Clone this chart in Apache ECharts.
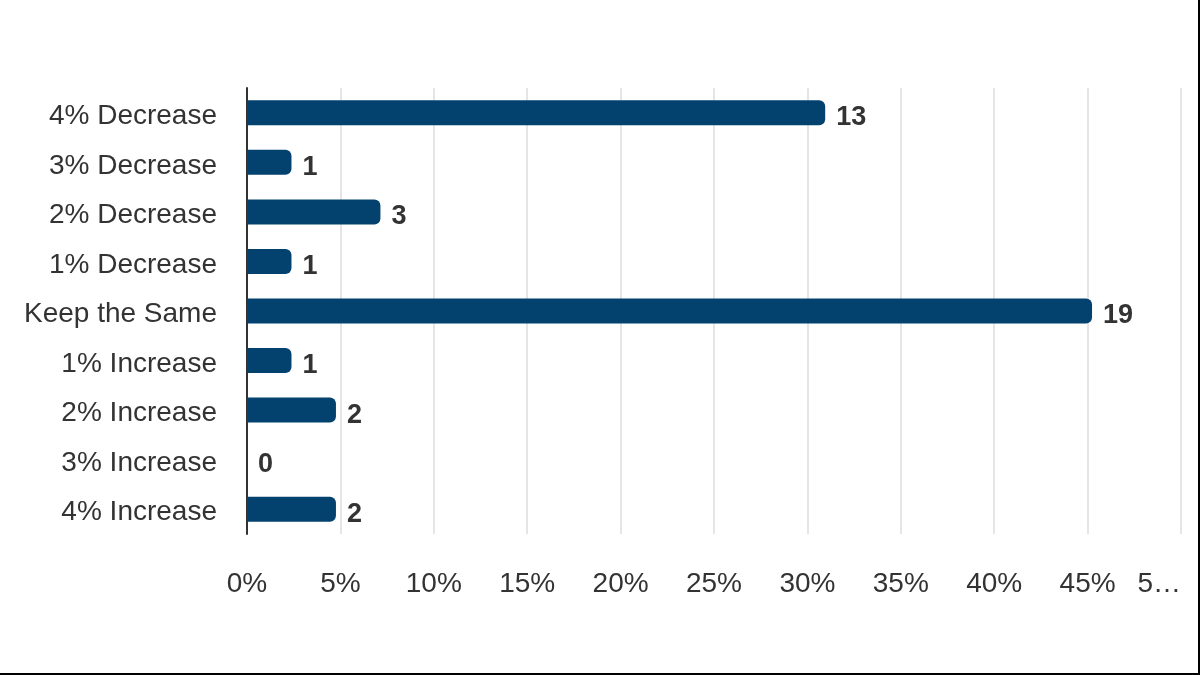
<!DOCTYPE html>
<html>
<head>
<meta charset="utf-8">
<script src="https://cdn.jsdelivr.net/npm/echarts@6/dist/echarts.min.js"></script>
<style>
  html, body { margin: 0; padding: 0; background: #fff; }
  #wrap { width: 1198px; height: 673px; border-right: 2px solid #000; border-bottom: 2px solid #000; }
  #main { width: 1198px; height: 673px; }
</style>
</head>
<body>
<div id="wrap"><div id="main"></div></div>
<script>
// categories top to bottom
var categories = ["4% Decrease", "3% Decrease", "2% Decrease", "1% Decrease", "Keep the Same",
  "1% Increase", "2% Increase", "3% Increase", "4% Increase"];
// responses per answer
var counts = [13, 1, 3, 1, 19, 1, 2, 0, 2];
// x axis tick labels (last one is cut off in the original)
var xTickLabels = ["0%", "5%", "10%", "15%", "20%", "25%", "30%", "35%", "40%", "45%", "5…"];

var total = 0;
for (var i = 0; i < counts.length; i++) total += counts[i];
var shares = counts.map(function (c) { return c / total * 100; });

var myChart = echarts.init(document.getElementById("main"));
var textColor = "#333333";
var option = {
  animation: false,
  grid: { left: 247, right: 17, top: 88, height: 446, containLabel: false, outerBoundsMode: "none" },
  xAxis: {
    type: "value",
    min: 0,
    max: 50,
    interval: 5,
    axisLine: { show: false },
    axisTick: { show: false },
    splitLine: { show: true, lineStyle: { color: "#e5e5e5", width: 2 } },
    axisLabel: {
      margin: 36,
      color: textColor,
      fontFamily: "Liberation Sans",
      fontSize: 28,
      alignMaxLabel: "right",
      formatter: function (v) { return xTickLabels[Math.round(v / 5)]; }
    }
  },
  yAxis: {
    type: "category",
    inverse: true,
    data: categories,
    axisLine: { show: true, lineStyle: { color: "#333333", width: 2 } },
    axisTick: { show: false },
    axisLabel: {
      margin: 30,
      formatter: function (v) { return "{c|" + v + "}"; },
      rich: {
        c: {
          color: textColor,
          fontFamily: "Liberation Sans",
          fontSize: 28,
          padding: [7, 0, 0, 0]
        }
      }
    }
  },
  series: [{
    type: "bar",
    data: shares,
    barWidth: 25,
    itemStyle: { color: "#03426f", borderRadius: [0, 6, 6, 0] },
    label: {
      show: true,
      position: "right",
      distance: 11,
      offset: [0, 5],
      color: textColor,
      fontFamily: "Liberation Sans",
      fontWeight: "bold",
      fontSize: 27,
      formatter: function (p) { return counts[p.dataIndex]; }
    }
  }]
};
myChart.setOption(option);
</script>
</body>
</html>
